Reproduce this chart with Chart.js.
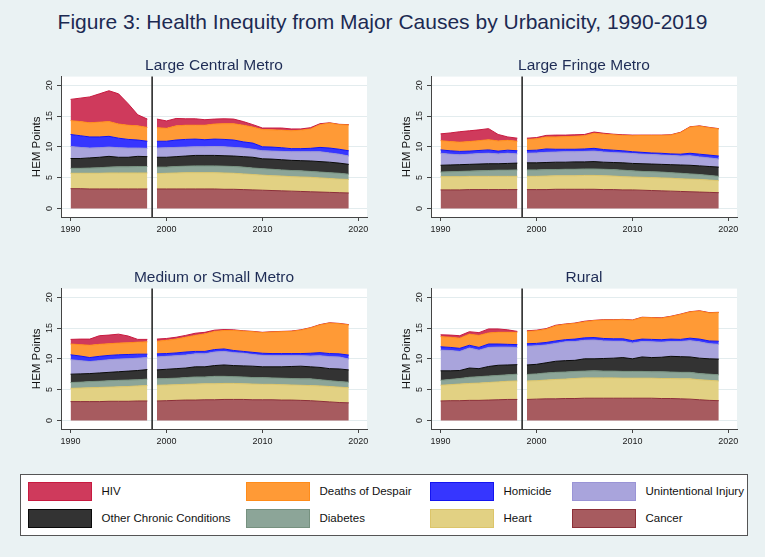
<!DOCTYPE html>
<html>
<head>
<meta charset="utf-8">
<script src="https://cdn.jsdelivr.net/npm/chart.js@4.4.1/dist/chart.umd.min.js"></script>
<style>
html,body{margin:0;padding:0;background:#eaf2f3;}
body{width:765px;height:557px;position:relative;overflow:hidden;font-family:"Liberation Sans",Arial,Helvetica,sans-serif;}
#title{position:absolute;left:0;top:10px;width:765px;text-align:center;font-size:21px;line-height:24px;color:#1c2a52;white-space:nowrap;}
.panel{position:absolute;width:370px;height:200px;}
#legend{position:absolute;left:20px;top:474px;width:728px;height:62px;box-sizing:border-box;background:#fff;border:1.5px solid #555;}
.sw{position:absolute;width:64px;height:19px;box-sizing:border-box;border:1.5px solid;}
.lab{position:absolute;font-size:11.5px;line-height:14px;color:#111;white-space:nowrap;}
</style>
</head>
<body>
<div id="title">Figure 3: Health Inequity from Major Causes by Urbanicity, 1990-2019</div>
<canvas id="p0" class="panel" width="370" height="200" style="left:10px;top:45px"></canvas>
<canvas id="p1" class="panel" width="370" height="200" style="left:380px;top:45px"></canvas>
<canvas id="p2" class="panel" width="370" height="200" style="left:10px;top:257px"></canvas>
<canvas id="p3" class="panel" width="370" height="200" style="left:380px;top:257px"></canvas>
<div id="legend"></div>
<script>
// ---------------- data ----------------
const YEARS = [1990,1991,1992,1993,1994,1995,1996,1997,1998,1999,2000,2001,2002,2003,2004,2005,2006,2007,2008,2009,2010,2011,2012,2013,2014,2015,2016,2017,2018,2019];
const BREAK_YEAR = 1998.5;
const X_TICKS = [1990,2000,2010,2020];
const Y_TICKS = [0,5,10,15,20];
const CAUSES = ['Cancer','Heart','Diabetes','Other Chronic Conditions','Unintentional Injury','Homicide','Deaths of Despair','HIV'];
const PANEL_TITLES = ['Large Central Metro','Large Fringe Metro','Medium or Small Metro','Rural'];
const Y_TITLE = 'HEM Points';

// Large Central Metro
const LCM_CANCER = [3.2,3.2,3.15,3.15,3.15,3.15,3.15,3.15,3.15, 3.15,3.15,3.15,3.15,3.15,3.15,3.15,3.1,3.1,3.05,3.0,2.95,2.9,2.85,2.8,2.75,2.7,2.65,2.6,2.55,2.5];
const LCM_HEART  = [2.5,2.5,2.55,2.55,2.6,2.6,2.6,2.6,2.6, 2.5,2.55,2.6,2.65,2.65,2.65,2.65,2.65,2.6,2.55,2.5,2.45,2.4,2.4,2.35,2.35,2.35,2.3,2.25,2.2,2.2];
const LCM_DIAB   = [0.8,0.8,0.85,0.9,0.95,1.0,1.0,1.05,1.05, 1.05,1.0,1.05,1.05,1.1,1.1,1.1,1.1,1.1,1.1,1.05,1.05,1.05,1.0,1.0,1.0,0.95,0.95,0.95,0.95,0.85];
const LCM_OTHER  = [1.6,1.6,1.65,1.7,1.75,1.55,1.55,1.65,1.6, 1.6,1.6,1.6,1.65,1.7,1.7,1.7,1.7,1.7,1.7,1.75,1.6,1.65,1.65,1.65,1.65,1.7,1.7,1.7,1.65,1.6];
const LCM_UI     = [1.95,1.8,1.6,1.55,1.5,1.55,1.5,1.35,1.35, 1.5,1.55,1.5,1.45,1.4,1.4,1.45,1.45,1.4,1.4,1.3,1.3,1.3,1.35,1.4,1.45,1.5,1.6,1.5,1.45,1.35];
const LCM_HOM    = [1.95,1.9,1.8,1.75,1.75,1.55,1.4,1.3,1.15, 1.1,1.05,1.2,1.25,1.25,1.15,1.2,1.2,1.2,1.0,1.0,0.65,0.65,0.6,0.5,0.5,0.55,0.7,0.8,0.8,0.85];
const LCM_DESP   = [2.25,2.3,2.3,2.4,2.4,2.3,2.3,2.3,2.25, 2.2,2.1,2.3,2.3,2.25,2.35,2.45,2.55,2.65,2.7,2.6,2.8,2.8,2.85,2.9,3.0,3.15,3.7,4.05,4.0,4.2];
const LCM_HIV    = [3.45,3.8,4.2,4.6,5.0,4.9,3.5,1.8,1.35, 1.4,1.2,1.2,1.05,1.05,0.9,0.8,0.8,0.75,0.6,0.4,0.25,0.3,0.35,0.3,0.2,0.2,0.15,0.05,0.05,0.05];

// Large Fringe Metro
const LFM_CANCER = [3.0,3.0,3.0,3.05,3.05,3.05,3.05,3.05,3.05, 3.05,3.05,3.05,3.1,3.1,3.1,3.1,3.1,3.05,3.05,3.0,3.0,2.95,2.9,2.85,2.8,2.75,2.7,2.65,2.6,2.55];
const LFM_HEART  = [2.15,2.15,2.15,2.15,2.15,2.15,2.15,2.15,2.15, 2.15,2.15,2.2,2.2,2.2,2.2,2.25,2.25,2.25,2.2,2.15,2.1,2.1,2.1,2.1,2.1,2.05,2.05,2.05,2.0,1.95];
const LFM_DIAB   = [0.75,0.8,0.85,0.85,0.9,0.95,1.0,1.0,1.05, 1.05,1.05,1.05,1.0,1.05,1.05,1.05,1.05,1.05,1.05,1.05,1.0,0.95,0.95,0.95,0.9,0.9,0.85,0.8,0.75,0.7];
const LFM_OTHER  = [1.1,1.1,1.1,1.1,1.1,1.1,1.05,1.1,1.1, 1.15,1.15,1.15,1.2,1.15,1.2,1.15,1.2,1.15,1.15,1.2,1.2,1.25,1.25,1.25,1.3,1.35,1.4,1.4,1.45,1.5];
const LFM_UI     = [1.95,1.75,1.6,1.65,1.7,1.7,1.6,1.65,1.5, 1.55,1.6,1.65,1.65,1.7,1.65,1.7,1.7,1.65,1.6,1.6,1.6,1.55,1.55,1.5,1.5,1.45,1.55,1.45,1.4,1.3];
const LFM_HOM    = [0.55,0.55,0.55,0.5,0.5,0.55,0.45,0.5,0.5, 0.45,0.45,0.55,0.45,0.4,0.4,0.4,0.45,0.4,0.4,0.35,0.3,0.3,0.25,0.3,0.25,0.3,0.4,0.45,0.45,0.5];
const LFM_DESP   = [1.5,1.5,1.5,1.55,1.6,1.65,1.65,1.6,1.55, 1.8,1.85,1.95,2.0,2.05,2.1,2.15,2.45,2.5,2.5,2.5,2.6,2.75,2.85,2.9,3.05,3.5,4.25,4.55,4.45,4.4];
const LFM_HIV    = [1.1,1.4,1.7,1.75,1.75,1.8,1.05,0.55,0.5, 0.2,0.2,0.25,0.3,0.25,0.25,0.2,0.2,0.15,0.1,0.1,0.1,0.05,0.05,0.05,0.05,0.05,0.05,0.05,0.05,0.05];

// Medium or Small Metro
const MSM_CANCER = [3.05,3.05,3.05,3.05,3.1,3.1,3.1,3.15,3.15, 3.15,3.2,3.25,3.3,3.3,3.35,3.35,3.4,3.4,3.4,3.35,3.35,3.35,3.3,3.3,3.25,3.2,3.1,3.0,2.9,2.85];
const MSM_HEART  = [2.15,2.2,2.25,2.3,2.3,2.35,2.4,2.45,2.5, 2.55,2.55,2.55,2.55,2.6,2.6,2.6,2.6,2.6,2.55,2.55,2.5,2.5,2.5,2.45,2.45,2.45,2.5,2.5,2.5,2.45];
const MSM_DIAB   = [0.95,0.95,1.0,1.0,1.05,1.05,1.05,1.0,1.05, 1.05,1.05,1.05,1.1,1.15,1.1,1.2,1.15,1.1,1.1,1.05,1.1,1.05,1.05,1.05,1.05,1.1,1.0,0.95,0.9,0.9];
const MSM_OTHER  = [1.35,1.35,1.3,1.35,1.35,1.4,1.45,1.5,1.55, 1.45,1.5,1.55,1.55,1.65,1.65,1.75,1.85,1.8,1.8,1.85,1.75,1.8,1.85,1.95,2.05,1.95,2.0,1.95,2.05,2.0];
const MSM_UI     = [2.35,2.15,1.95,2.0,2.05,2.05,2.0,2.0,1.95, 2.1,2.1,2.1,2.1,2.1,2.1,2.2,2.2,2.1,2.05,1.9,1.85,1.8,1.8,1.75,1.7,1.75,1.9,1.95,1.95,1.75];
const MSM_HOM    = [0.8,0.75,0.65,0.7,0.7,0.7,0.7,0.65,0.55, 0.5,0.45,0.45,0.5,0.4,0.4,0.4,0.4,0.35,0.3,0.35,0.35,0.35,0.35,0.35,0.35,0.45,0.5,0.5,0.5,0.65];
const MSM_DESP   = [1.75,1.85,2.0,1.95,1.9,1.9,1.9,1.95,2.0, 2.05,2.15,2.25,2.4,2.6,2.85,2.95,3.0,3.25,3.3,3.35,3.35,3.5,3.55,3.6,3.8,4.1,4.5,4.95,4.9,4.9];
const MSM_HIV    = [0.75,0.9,1.0,1.4,1.4,1.45,1.1,0.45,0.4, 0.35,0.3,0.3,0.3,0.35,0.25,0.2,0.15,0.1,0.05,0.05,0.05,0.05,0.05,0.05,0.05,0.05,0.05,0.05,0.05,0.05];

// Rural
const RUR_CANCER = [3.15,3.2,3.2,3.25,3.25,3.3,3.35,3.4,3.4, 3.4,3.45,3.5,3.5,3.55,3.55,3.6,3.6,3.6,3.6,3.6,3.6,3.6,3.6,3.55,3.55,3.5,3.45,3.35,3.25,3.2];
const RUR_HEART  = [2.55,2.6,2.7,2.75,2.8,2.85,2.9,2.95,3.0, 3.0,3.0,3.05,3.15,3.15,3.25,3.3,3.3,3.3,3.3,3.25,3.25,3.25,3.25,3.25,3.25,3.25,3.3,3.25,3.25,3.2];
const RUR_DIAB   = [0.8,0.85,0.9,1.0,1.05,1.05,1.05,1.05,1.1, 1.05,1.1,1.15,1.15,1.15,1.15,1.1,1.15,1.1,1.1,1.1,1.1,1.1,1.05,1.1,1.05,1.05,1.05,1.0,1.0,1.0];
const RUR_OTHER  = [1.55,1.4,1.3,1.5,1.3,1.55,1.65,1.6,1.55, 1.55,1.55,1.65,1.8,1.85,1.8,2.0,1.95,2.05,2.1,2.25,2.05,2.35,2.3,2.35,2.55,2.55,2.5,2.5,2.5,2.55];
const RUR_UI     = [3.35,3.3,3.1,3.25,3.0,3.1,2.95,2.9,2.8, 3.05,3.0,2.9,2.9,3.05,3.05,3.0,3.05,2.85,2.75,2.65,2.55,2.5,2.55,2.45,2.4,2.45,2.65,2.65,2.45,2.4];
const RUR_HOM    = [0.55,0.5,0.5,0.45,0.45,0.55,0.5,0.45,0.45, 0.4,0.4,0.4,0.4,0.35,0.4,0.4,0.4,0.4,0.4,0.4,0.4,0.4,0.4,0.4,0.4,0.35,0.4,0.45,0.45,0.5];
const RUR_DESP   = [1.65,1.65,1.65,1.8,1.95,1.8,1.9,1.95,2.0, 2.0,2.05,2.15,2.45,2.5,2.55,2.6,2.75,3.0,3.05,3.1,3.3,3.5,3.5,3.5,3.65,4.05,4.25,4.55,4.55,4.65];
const RUR_HIV    = [0.3,0.35,0.4,0.4,0.45,0.65,0.55,0.4,0.15, 0.1,0.1,0.1,0.1,0.05,0.05,0.1,0.05,0.05,0.05,0.05,0.05,0.05,0.05,0.05,0.05,0.05,0.05,0.05,0.05,0.05];

// ---------------- styles ----------------
const FILLS   = ['#a75b5f','#e2d183','#8ca598','#333333','#a9a4dc','#3636ff','#ff9a36','#cf3a5c'];
const BORDERS = ['#8c2f38','#dcc56a','#76917f','#0a0a0a','#9a94d6','#1414f0','#ff8c1a','#c81a40'];

const PANEL_SERIES = [
  [LCM_CANCER,LCM_HEART,LCM_DIAB,LCM_OTHER,LCM_UI,LCM_HOM,LCM_DESP,LCM_HIV],
  [LFM_CANCER,LFM_HEART,LFM_DIAB,LFM_OTHER,LFM_UI,LFM_HOM,LFM_DESP,LFM_HIV],
  [MSM_CANCER,MSM_HEART,MSM_DIAB,MSM_OTHER,MSM_UI,MSM_HOM,MSM_DESP,MSM_HIV],
  [RUR_CANCER,RUR_HEART,RUR_DIAB,RUR_OTHER,RUR_UI,RUR_HOM,RUR_DESP,RUR_HIV]
];

Chart.defaults.font.family = '"Liberation Sans", Arial, Helvetica, sans-serif';

const plotBg = {
  id: 'plotBg',
  beforeDraw(chart) {
    const {ctx, chartArea: a} = chart;
    ctx.save();
    ctx.fillStyle = '#ffffff';
    ctx.fillRect(a.left, a.top, a.right - a.left, a.bottom - a.top);
    ctx.restore();
  }
};
const breakLine = {
  id: 'breakLine',
  afterDatasetsDraw(chart) {
    const {ctx, chartArea: a, scales: {x}} = chart;
    const px = x.getPixelForValue(BREAK_YEAR);
    ctx.save();
    ctx.strokeStyle = '#2a2a2a';
    ctx.lineWidth = 1.6;
    ctx.beginPath();
    ctx.moveTo(px, a.top);
    ctx.lineTo(px, a.bottom);
    ctx.stroke();
    ctx.restore();
  }
};

function buildDatasets(series) {
  const datasets = [];
  ['pre', 'post'].forEach(seg => {
    series.forEach((vals, k) => {
      const pts = [];
      YEARS.forEach((yr, i) => {
        if ((seg === 'pre' && yr < BREAK_YEAR) || (seg === 'post' && yr > BREAK_YEAR)) pts.push({x: yr, y: vals[i]});
      });
      datasets.push({
        label: CAUSES[k], data: pts, stack: seg,
        fill: k === 0 ? 'origin' : '-1',
        backgroundColor: FILLS[k], borderColor: BORDERS[k],
        borderWidth: 1, pointRadius: 0, tension: 0
      });
    });
  });
  return datasets;
}

PANEL_TITLES.forEach((title, p) => {
  new Chart(document.getElementById('p' + p), {
    type: 'line',
    data: {datasets: buildDatasets(PANEL_SERIES[p])},
    options: {
      responsive: false, animation: false, events: [],
      layout: {padding: {left: 20, right: 13, top: 0, bottom: 4}},
      plugins: {
        legend: {display: false}, tooltip: {enabled: false},
        title: {display: true, text: title, fullSize: false, color: '#1e2c55',
          font: {size: 15.5, weight: 'normal'}, padding: {top: 11, bottom: 2}}
      },
      scales: {
        x: {
          type: 'linear', min: 1989, max: 2020.9,
          afterBuildTicks: s => { s.ticks = X_TICKS.map(v => ({value: v})); },
          afterFit: s => { s.height = 24; },
          grid: {drawOnChartArea: false, tickLength: 4, color: '#444'},
          border: {color: '#444', width: 1},
          ticks: {font: {size: 9}, color: '#1a1a1a', padding: 3, maxRotation: 0, autoSkip: false,
            callback: v => String(v)}
        },
        y: {
          stacked: true, min: -1.4, max: 21.4,
          afterBuildTicks: s => { s.ticks = Y_TICKS.map(v => ({value: v})); },
          afterFit: s => { s.width = 31; },
          grid: {color: '#e3ecee', tickLength: 4, tickColor: '#444'},
          border: {color: '#444', width: 1},
          ticks: {font: {size: 9}, color: '#1a1a1a', minRotation: 90, maxRotation: 90, crossAlign: 'center', padding: 2,
            callback: v => String(v)},
          title: {display: true, text: Y_TITLE, color: '#111', font: {size: 11.5}, padding: 0}
        }
      }
    },
    plugins: [plotBg, breakLine]
  });
});

// ---------------- legend ----------------
const LEGEND_ORDER = [7, 6, 5, 4, 3, 2, 1, 0];
const LEG_SW_X = [6.5, 224.5, 408.5, 550.5];
const LEG_TX_X = [80.5, 298.5, 482.5, 624.5];
const LEG_ROW_Y = [6.8, 33.5];
const legend = document.getElementById('legend');
LEGEND_ORDER.forEach((k, j) => {
  const col = j % 4, row = Math.floor(j / 4);
  const sw = document.createElement('div');
  sw.className = 'sw';
  sw.style.left = LEG_SW_X[col] + 'px';
  sw.style.top = LEG_ROW_Y[row] + 'px';
  sw.style.background = FILLS[k];
  sw.style.borderColor = BORDERS[k];
  legend.appendChild(sw);
  const lb = document.createElement('div');
  lb.className = 'lab';
  lb.style.left = LEG_TX_X[col] + 'px';
  lb.style.top = (LEG_ROW_Y[row] + 2.5) + 'px';
  lb.textContent = CAUSES[k];
  legend.appendChild(lb);
});
</script>
</body>
</html>
